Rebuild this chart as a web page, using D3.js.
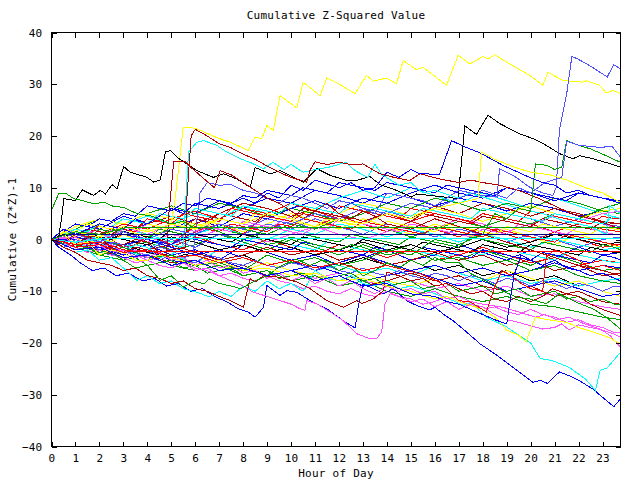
<!DOCTYPE html>
<html><head><meta charset="utf-8">
<script src="https://cdn.jsdelivr.net/npm/d3@7"></script>
<style>
body{margin:0;background:#fff}
svg{display:block}
text{font-family:"DejaVu Sans Mono",monospace;font-size:11px;fill:#000;letter-spacing:0.25px}
</style>
</head><body>
<svg id="chart" width="640" height="480"></svg>
<script>
// ---------- DATA ----------
const titleText = "Cumulative Z-Squared Value";
const xTitle = "Hour of Day";
const yTitle = "Cumulative (Z*Z)-1";
const xTicks = [0,1,2,3,4,5,6,7,8,9,10,11,12,13,14,15,16,17,18,19,20,21,22,23];
const yTicks = [-40,-30,-20,-10,0,10,20,30,40];
const hourGrid = [0,1,2,3,4,5,6,7,8,9,10,11,12,13,14,15,16,17,18,19,20,21,22,23,23.75];
const halfStep = 0.5, lastHour = 23.75;

// generic series: values at hourGrid
const g1  = [0,3,2,4.5,3,6,5,7.5,6,8,7,9.5,8.5,7,9,8,6.5,8,7,5.5,7,6,4.5,5.5,5];
const g2  = [0,1.5,-0.5,2,0.5,-1,1.5,3,1,5,4,2.5,4.5,3,1.5,3.5,2,0.5,2.5,1,-0.5,1.5,0,-1.5,-1];
const g3  = [0,-1,0.5,-1.5,-0.5,-2,-1,1,-0.5,-2,0,-1.5,-3,-1,-2.5,-1,-2.5,-4,-2,-3.5,-5,-3,-4.5,-6,-5.5];
const g4  = [0,2,1,3,4.5,3,5,4,6.5,5,7,6,8,9.5,8,10,8.5,7,9,7.5,6,8,6.5,5,4];
const g5  = [0,-0.5,1,2.5,1,3,1.5,4,3,2,4.5,6,5,7,6,4.5,6,5,3.5,5,4,2.5,4,3,2];
const g6  = [0,1,3,2,0.5,2,4,3,1.5,3,5,3.5,2,4,2.5,1,3,1.5,0,2,0.5,-1,1,-0.5,-1.5];
const g7  = [0,-2,-1,-3,-2,0,-1.5,1,0,2,3.5,2,4,3,5.5,4,6,5,3.5,5,4,2.5,4,3,2.5];
const g8  = [0,1,2.5,1.5,3,4.5,3,5,7,6,4.5,6,5,3.5,5,4,6.5,5,7,6,4.5,6,5,3.5,3];
const g9  = [0,-1.5,-0.5,-2.5,-1,-3,-2,-4,-1,-2.5,-4,-3,-5,-3.5,-2,-4,-3,-1,-2.5,-4,-2,-3.5,-1.5,-3,-2.5];
const g10 = [0,-1,-2,-1,-2.5,-3.5,-2.5,-4,-3,-5,-4,-6,-5,-3.5,-5,-4,-6,-5,-7,-6,-8,-7,-9,-8,-8.5];
const g11 = [0,0.5,-1,1,0,-1.5,0.5,-1,-2,0,-1.5,-3,-1,-2,-3.5,-2,-4,-3,-1.5,-3,-4.5,-3.5,-5,-4,-4.5];
const g12 = [0,2,4,3,5,6.5,5,7,6,4.5,6,5,3.5,5,7,6,8,7,5.5,7,6,8,7,5.5,5];
const g13 = [0,-1,-2.5,-2,-3.5,-3,-4.5,-2,-3.5,-5,-4,-6,-5,-6.5,-5.5,-7,-5,-6.5,-8,-7,-8.5,-7.5,-9,-8,-7.5];
const g14 = [0,-1.5,-3,-2,-4,-3,-5,-4,-5.5,-7,-6,-7.5,-6.5,-8,-9,-8,-9.5,-8.5,-10,-9,-11,-10.5,-12,-13,-13.5];
const g15 = [0,-1,-2,-3,-2,-4,-3,-5,-6,-4.5,-6,-7,-8,-6.5,-8,-9,-7.5,-9,-8,-6,-7.5,-9,-8,-10,-11];
const g16 = [0,1,-0.5,1.5,3,2,4,2.5,5,4,6,7.5,6,8,7,9,10.5,9,8,10,9,7.5,9,8,7];
const g17 = [0,-2,-1,-3,-2,-1,-2.5,-4,-3,-1.5,-3,-2,-4,-3,-5,-4,-2.5,-4,-3,-5,-4,-6,-5,-7,-6.5];
const g18 = [0,1,0,-1.5,0.5,-1,1,2.5,1,3,2,4,2.5,1,3,2,0.5,2,1,-0.5,1,0,-1.5,0,0.5];
const g19 = [0,-1.5,-3,-4,-3,-5,-6,-5,-7,-6,-8,-7,-9,-8,-10,-11,-9.5,-11,-12,-11,-12.5,-13,-14,-15,-15.5];
const g20 = [0,2,1,3,2,4,5.5,4,6,5,7,5.5,4,6,5,3.5,5,4,2.5,4,3,1.5,3,2,1.5];
const g21 = [0,1.5,0,2,1,-0.5,1,2.5,1,0,2,1,3,2,0.5,2,1,-0.5,1,0,-1.5,0,-1,-2,-1.5];
const g22 = [0,-0.5,-2,-1,0,-1.5,-3,-2,-3.5,-5,-4,-6,-4.5,-3,-4.5,-6,-5,-6.5,-5.5,-7,-6,-4.5,-6,-5,-5.5];
const g23 = [0,0.5,2,1,-0.5,1,0,2,1,-0.5,1,2.5,1,0,1.5,3,2,4,3,1.5,3,4.5,3.5,5,5.5];
const g24 = [0,2.5,4,3,5,4,2.5,4,3,5,4,6,5,7,6,4.5,6,5,3.5,5,6.5,5,4,5.5,6];
const g25 = [0,-0.5,1,0,-1,0.5,-0.5,-2,-1,-2.5,-1.5,-3,-2,-0.5,-2,-1,-2.5,-1.5,0,-1.5,-0.5,1,0,-1,-0.5];
const g26 = [0,-1,-2,-3.5,-3,-4.5,-4,-6,-5,-7,-6,-8,-7,-9,-8,-6.5,-8,-7,-9,-10,-9,-11,-10,-12,-12.5];
const g27 = [0,1,2.5,1.5,0.5,2,1,3,2,1,3,2,4,3,2,0.5,2,3.5,2.5,4,3,5,4,6,7];
const g28 = [0,0,-1.5,-3,-2,-4,-5,-4,-5.5,-7,-6,-5,-6.5,-8,-7,-6,-7.5,-9,-8,-10,-9,-8,-9.5,-11,-10.5];
const genericValues = [g1,g2,g3,g4,g5,g6,g7,g8,g9,g10,g11,g12,g13,g14,g15,g16,g17,g18,g19,g20,g21,g22,g23,g24,g25,g26,g27,g28];
const genericColors = ["blue","red","green","cyan","magenta","yellow","lightblue","darkred","blue","black","red","green","cyan","magenta","yellow","blue","darkred","lightblue","green","red","cyan","blue","magenta","yellow","black","darkred","green","blue"];

// half-hourly series (0, 0.5, ... 23.5, then 23.75)
const h1  = [0,1.5,3,2.5,4,3.5,5,4.5,6.5,6,5.5,7,6.5,8,7.5,7,8.5,8,9.5,9,8.5,10,9.5,9,11,10.5,10,9.5,11,10.5,10,9.5,9,10.5,10,9.5,9,8.5,10,9.5,9,8.5,8,7.5,9,8.5,8,7.5,7.5];
const h2  = [0,-0.5,1,0.5,-1,0,-1.5,-1,0.5,0,-1,1,2.5,2,1.5,3,2.5,2,1.5,3,2.5,4,3.5,3,2.5,2,3.5,3,2.5,2,1.5,1,2.5,2,1.5,1,0.5,2,1.5,1,0.5,0,-0.5,1,0.5,0,-0.5,-1,-1];
const h3  = [0,1,0.5,0,2,1.5,1,0.5,0,2,1.5,1,3,2.5,2,1.5,1,0.5,2.5,2,1.5,1,0.5,0,-0.5,1,0.5,0,-0.5,-1,0.5,0,-0.5,-1,-1.5,0.5,0,-0.5,-1,-1.5,-2,-0.5,-1,-1.5,-2,-2.5,-1,-1.5,-2];
const h4  = [0,-1,-0.5,-1.5,0,-0.5,-1,-1.5,-2,-0.5,-1,-1.5,1,0.5,0,-0.5,-1,0.5,0,-0.5,-1,-1.5,-2,-0.5,-1,-1.5,-2,-2.5,-1,-1.5,-2,-2.5,-3,-3.5,-2,-2.5,-3,-1.5,-2,-2.5,-3,-3.5,-4,-2.5,-3,-3.5,-4,-4.5,-4.5];
const h5  = [0,0.5,2,1.5,1,0.5,2,1.5,3,2.5,2,1.5,1,2.5,2,1.5,3.5,3,2.5,2,1.5,1,2.5,2,4,3.5,3,2.5,2,1.5,3,2.5,2,1.5,1,0.5,2,1.5,1,3,2.5,2,1.5,1,2.5,2,1.5,1,1];
const h6  = [0,2,1.5,3,2.5,2,4,3.5,3,2.5,2,3.5,3,2.5,4,3.5,3,5,4.5,4,3.5,3,2.5,4,3.5,3,2.5,2,3.5,3,2.5,2,1.5,3,2.5,2,1.5,1,2.5,2,1.5,3,2.5,2,1.5,1,2.5,2,2];
const h7  = [0,-1,-2,-1.5,-2.5,-3,-2,-3,-3.5,-4,-3,-4,-4.5,-3,-3.5,-4.5,-5,-4,-5,-5.5,-4.5,-5,-6,-5,-6,-6.5,-5.5,-6.5,-7,-6,-7,-7.5,-6.5,-7,-8,-7,-7.5,-8.5,-7.5,-8,-9,-8,-8.5,-9.5,-8.5,-9,-10,-9,-9];
const h8  = [0,1,0.5,2,1.5,1,2.5,2,4,3.5,3,2.5,4,3.5,5,4.5,4,3.5,5,4.5,4,6,5.5,5,4.5,4,5.5,5,4.5,4,3.5,5,4.5,4,3.5,3,4.5,4,3.5,3,2.5,4,3.5,3,2.5,2,3.5,3,3];
const h9  = [0,-0.5,0.5,0,-1,-0.5,1,0.5,0,-0.5,-1,0.5,0,-0.5,-1,-1.5,0,-0.5,-1,-1.5,-2,-0.5,-1,-1.5,-2,-2.5,-3,-1.5,-2,-2.5,-3,-1.5,-2,-2.5,-3,-3.5,-2,-2.5,-3,-3.5,-4,-2.5,-3,-3.5,-4,-4.5,-3,-3.5,-4];
const h10 = [0,1.5,1,0.5,3,2.5,2,1.5,4,3.5,3,5,4.5,4,3.5,6,5.5,5,4.5,4,3.5,5,4.5,4,6.5,6,5.5,5,4.5,4,6,5.5,5,4.5,4,3.5,5,4.5,4,3.5,5.5,5,4.5,4,3.5,3,4.5,4,4];
const h11 = [0,-1,-2,-1.5,-3,-2.5,-4,-3.5,-5,-4.5,-4,-5.5,-5,-6.5,-6,-5.5,-7,-6.5,-6,-7.5,-7,-6.5,-8,-7.5,-7,-6.5,-8,-7.5,-9,-8.5,-8,-9.5,-9,-8.5,-10,-9.5,-9,-10.5,-10,-9.5,-11,-10.5,-10,-11.5,-11,-12,-11.5,-12.5,-12.5];
const h12 = [0,0.5,1.5,1,0.5,0,1.5,1,0.5,0,2,1.5,1,0.5,0,-0.5,1,0.5,0,-0.5,-1,0.5,0,-0.5,-1,-1.5,0,-0.5,-1,-1.5,-2,-0.5,-1,-1.5,-2,-2.5,-1,-1.5,-2,-2.5,-1,-1.5,-2,-2.5,-3,-1.5,-2,-2.5,-2.5];
const h13 = [0,1,2,1.5,3,2.5,4,3.5,3,5,4.5,4,6,5.5,5,4.5,6.5,6,5.5,5,7,6.5,6,5.5,5,7,6.5,6,5.5,5,4.5,6,5.5,5,4.5,4,6,5.5,5,4.5,4,3.5,5,4.5,4,3.5,3,4.5,4];
const h14 = [0,-1,-1.5,-2.5,-2,-3,-3.5,-4.5,-4,-5,-5.5,-4.5,-5.5,-6,-7,-6.5,-7.5,-8,-7,-8,-8.5,-9.5,-9,-10,-10.5,-9.5,-10.5,-11,-10,-11,-11.5,-12.5,-12,-11,-12,-12.5,-13.5,-13,-14,-14.5,-13.5,-14.5,-15,-16,-15.5,-16.5,-17,-18,-18];
const halfValues = [h1,h2,h3,h4,h5,h6,h7,h8,h9,h10,h11,h12,h13,h14];
const halfColors = ["blue","red","green","cyan","magenta","yellow","lightblue","darkred","blue","red","green","black","cyan","magenta"];

// prominent series: [hour, value] pairs
const yellowTop = [[0,0],[0.5,1.5],[1,0.5],[1.5,-1],[2,0.5],[2.5,-0.5],[3,1],[3.5,0],[4,2],[4.5,1],[5,3],[5.17,8.2],[5.5,21.7],[6,21.5],[6.5,20.5],[7,19.5],[7.46,18.8],[8.22,17.2],[8.5,19.8],[8.78,19.5],[8.99,22],[9.26,21.1],[9.54,27.8],[10.24,25.4],[10.51,30.4],[11.21,27.8],[11.49,31.2],[11.9,30.3],[12.67,28.2],[13.15,31.7],[13.43,30.6],[13.99,31.2],[14.4,30.1],[14.68,34.6],[15.24,32.8],[15.5,33.3],[16.49,29.8],[16.97,35.6],[17.46,33.9],[18.01,35.4],[18.22,34.9],[18.5,35.7],[18.99,34.3],[19.96,31.7],[20.51,29.8],[20.72,32.3],[21.35,30.7],[22.18,30.4],[22.32,30.7],[22.88,29.8],[23.15,28.3],[23.43,28.8],[23.75,28.2]];
const blackTop = [[0,0],[0.25,-1],[0.45,5],[0.51,7.9],[1,7.5],[1.28,9.6],[1.76,8.5],[2.04,9.5],[2.25,8.8],[2.53,10.6],[2.74,9.8],[3.01,14.1],[3.29,13],[3.71,12.4],[3.99,12],[4.26,11.1],[4.54,11.5],[4.75,16.9],[4.96,17.2],[5.24,15.9],[5.65,14.6],[6.07,13.3],[6.76,12],[7.18,12.7],[7.74,11.7],[8.29,10.1],[8.5,13.9],[9.13,12.7],[9.54,13.3],[10.51,11.1],[11.07,13.7],[11.63,12.4],[12.32,11.4],[12.74,11.4],[13.29,12.2],[13.71,10.6],[14.4,9.5],[15.03,8.2],[15.24,8.8],[16,8.4],[16.97,7.9],[17.25,22],[17.74,20.3],[18.22,24],[18.71,22.4],[19.54,20.4],[20.1,19.5],[20.65,18.2],[21.2,16.6],[21.76,15.6],[22.04,16.2],[22.6,15.6],[23.2,14.8],[23.75,14]];
const lightBlueJump = [[0,0],[0.5,-1.5],[1,0],[1.5,-1],[2,-2],[2.5,-0.5],[3,-1],[3.5,-2.5],[4,-3],[4.5,-1.5],[5,-2],[5.5,-3.5],[5.9,-3],[6.2,9],[6.5,11],[7,10.5],[7.5,10.6],[8,9.5],[8.5,9],[9,8],[9.5,7],[10,8.5],[10.5,8],[11,7],[11.5,6],[12,7.5],[12.5,7],[13,6],[13.5,5],[14,9],[14.5,8.5],[15,8],[15.5,7.5],[16,6.5],[16.5,8],[17,9.5],[17.5,9],[18,8.5],[18.6,8.2],[18.7,13.7],[19.4,12],[19.96,10.1],[20.5,9],[20.93,8.5],[21.07,10.1],[21.2,21.2],[21.5,28],[21.72,35.4],[22,34.8],[22.5,33.5],[22.9,32.3],[23.2,31.4],[23.46,33.8],[23.75,33]];
const cyanTop = [[0,0],[0.5,1],[1,-1.5],[1.5,0],[2,-0.5],[2.5,-2],[3,-2.5],[3.5,-1],[4,-1.5],[4.5,-3.5],[5,-3],[5.5,-1],[5.72,16.9],[6.07,18.8],[6.35,19.1],[6.9,18.2],[7.32,16.9],[7.88,15.6],[8.29,14.9],[8.85,13.7],[9.25,14.9],[9.7,13.5],[10,14.5],[10.5,13],[11,13.5],[11.6,14],[12.3,14.9],[12.67,13.3],[13.2,12],[13.5,14.5],[13.8,12.5],[14.5,10.5],[15,11],[15.5,9],[16,9.5],[17,8],[17.5,9],[18.5,7.5],[19.5,6],[20.5,5],[21.5,3.5],[22.5,2.5],[23.15,1],[23.3,6.5],[23.75,5]];
const darkRedPeak = [[0,0],[0.5,-0.5],[1,-1],[1.5,0.5],[2,0.5],[2.5,-1.5],[3,-1],[3.5,0],[4,-0.5],[4.5,-2.5],[5,-2],[5.6,-1.5],[5.65,8],[5.83,20],[6.0,21.3],[6.5,20],[7,18.5],[7.46,17.8],[8,16.5],[8.5,15.5],[9,14.2],[9.5,13],[10,12],[10.65,11.1],[10.8,13.5],[11,15],[11.5,14.5],[12,14.9],[12.5,14.5],[13,14.6],[13.7,12.7],[14.3,12],[14.96,11.4],[15.38,12.7],[16.2,11.7],[17,11],[17.5,11.5],[18,11],[18.7,10.5],[19.5,9.5],[20.3,8],[21,6.5],[21.7,5],[22.5,4],[23.2,3],[23.75,2]];
const darkRedMid = [[0,0],[0.5,1],[1,-1.5],[1.5,-0.5],[2,-1],[2.5,-2],[3,-2.5],[3.5,-1.5],[4,-2],[4.8,-3],[4.9,5],[5.1,15],[5.58,15],[5.8,14],[6.3,12],[6.8,10],[7.04,13.3],[7.5,12.5],[8,11],[8.5,9.5],[9,8],[9.5,7],[10,5.5],[10.5,4],[11,5.5],[11.5,7],[12,5],[12.5,4],[13,5.5],[13.5,4.5],[14,3],[15,2],[16,4],[17,2.5],[18,1],[19,-0.5],[20,-2],[21,-3.5],[22,-5],[23,-6],[23.75,-7]];
const greenHigh = [[0,5.6],[0.3,8.9],[0.6,8.9],[0.93,7.9],[1.3,7.5],[1.76,6.9],[2.2,7.2],[2.5,6.5],[3,6.2],[3.57,5],[4.2,4.5],[5,3],[5.5,3.5],[6,2],[6.5,2.5],[7,1.5],[7.5,0.5],[8,0],[8.5,1],[9,-1],[9.5,-0.5],[10,0.5],[11,-1],[12,-2],[12.5,-1],[13,-1.5],[14,-3],[15,-2],[16,-4],[17,-3.5],[18,-5],[19,-4],[20,-6],[21,-5],[22,-7],[23,-8],[23.75,-8.5]];
const greenLate = [[0,0],[1,-1],[2,-2.5],[3,-1.5],[4,-3.5],[5,-3],[6,-5],[7,-4.5],[8,-6],[9,-3],[10,-4.5],[11,-3.5],[12,-5],[13,-4],[14,-2],[15,-3],[16,0],[17,-1],[18,1],[18.5,5],[19,4],[19.5,6],[20,5.5],[20.2,14.6],[20.7,14.3],[21,13.5],[21.3,14],[21.5,19.1],[22,18.2],[22.5,17.5],[23,16.5],[23.75,14.9]];
const lightBlueLate = [[0,0],[1,1],[2,-0.5],[3,1.5],[4,0],[5,2],[6,1],[7,3],[8,2],[9,4],[10,3],[11,5],[12,4],[13,6],[14,5],[15,7],[16,6],[17,8],[18,9.5],[19,8],[19.5,10],[20,9],[20.6,11],[21.3,12],[21.5,19],[22,18.2],[22.9,17.8],[23.4,18],[23.75,15.9]];
const blueHigh = [[0,0],[0.5,2],[1,1],[2,3],[3,2],[3.5,4],[4,3],[5,6],[5.5,5],[6,7],[7,6],[8,8],[8.5,7],[9,9],[9.5,8],[10,10.5],[10.5,9.5],[11,11.5],[12,10],[12.5,11],[13,9.5],[13.5,10],[14,13],[14.5,12],[15,13.5],[15.38,12.7],[16.2,12.6],[16.7,19.1],[17.2,18],[17.9,16.7],[18.85,14.3],[19.96,12],[20.5,11],[21,10.5],[21.5,9],[22,9.5],[22.5,8.5],[23,8],[23.75,7.5]];
const yellowMid = [[0,0],[1,1.5],[2,0.5],[3,2.5],[4,1.5],[5,3],[6,2],[7,4],[8,3],[9,5],[10,4],[11,2.5],[12,4],[13,3],[14,5],[15,4],[16,6],[17,7],[17.8,7.9],[17.95,16.9],[18.5,15.5],[19.3,14],[20,13],[20.8,12.5],[21.5,11.5],[22.3,10],[23,9],[23.75,7.2]];
const bottomBlue = [[0,0],[0.3,-1.5],[0.8,-3],[1.2,-4.5],[1.7,-6],[2.2,-5.5],[2.7,-7],[3.2,-6.5],[3.8,-8],[4.3,-7.5],[4.8,-9],[5.3,-8.5],[5.8,-10],[6.3,-9.5],[6.8,-11],[7.3,-12],[7.8,-13.4],[8.2,-14],[8.5,-15],[8.85,-13.1],[8.99,-8.9],[9.54,-10.8],[9.82,-9.9],[10.24,-10.2],[10.79,-11.8],[11.49,-13.4],[12.18,-15.7],[12.67,-17.1],[12.8,-13.1],[13.0,-8.6],[13.3,-9.2],[13.85,-10.5],[14.26,-9.5],[14.82,-11.8],[15.24,-12.75],[15.79,-13.6],[16.0,-13.1],[16.35,-14.4],[16.76,-15.7],[17.18,-17.3],[17.9,-20.2],[18.6,-22.4],[19.26,-24.7],[20.1,-27.6],[20.4,-27.2],[20.7,-27.8],[21.2,-25.6],[21.6,-26.3],[22.0,-27.2],[22.6,-28.9],[23.0,-30.5],[23.47,-32.3],[23.75,-30.8]];
const cyanLow = [[0,0],[0.5,-1.5],[1,-2.5],[1.5,-2],[2,-4],[2.5,-3.5],[3,-5.5],[3.57,-7.9],[4,-7],[4.5,-8.5],[5,-8],[5.5,-9.5],[6.07,-10.2],[6.6,-11.1],[7,-10],[7.5,-11],[8,-9],[8.5,-10],[9,-8],[9.5,-9.5],[10,-8.5],[10.5,-10],[11,-6],[11.5,-7.5],[12,-8],[12.5,-7],[13,-8.5],[13.5,-9],[14,-8],[14.5,-9.5],[15,-9],[15.65,-9.9],[16.6,-11.5],[17.2,-12.75],[17.5,-12.1],[18.15,-15],[19,-16.9],[19.54,-18.6],[20,-20],[20.4,-23],[20.9,-23.4],[21.6,-24.7],[22.3,-27],[22.7,-29.2],[22.9,-25.3],[23.2,-24.8],[23.75,-21.8]];
const magentaDip = [[0,0],[0.5,-1],[1,0.5],[1.5,-1.5],[2,-1],[2.5,-2.5],[3,-2],[3.5,-3.5],[4,-3],[4.5,-4],[5,-5],[5.5,-4.5],[6,-6],[6.5,-5.5],[7,-7],[7.46,-7.9],[8,-9],[8.43,-10.2],[9,-11],[9.54,-11.8],[10,-12.5],[10.38,-13.4],[10.58,-13.7],[10.65,-11.8],[11.07,-12.4],[11.63,-14],[12.18,-15.7],[12.74,-18.2],[13.29,-19.2],[13.57,-19.2],[13.78,-17.9],[13.92,-12.4],[14.13,-10.5],[14.5,-11],[15,-12],[15.5,-11.5],[16,-13],[16.5,-12],[17,-13.5],[17.5,-12.5],[18,-13],[18.5,-14.5],[19,-15.5],[19.5,-16],[20,-16.7],[20.5,-17.3],[21,-17],[21.3,-16.3],[21.6,-17.5],[22,-16.5],[22.5,-17],[23,-17.5],[23.5,-18.3],[23.75,-18.9]];
const magentaLow = [[0,0],[0.5,0.5],[1,-1],[1.5,0],[2,-1.5],[2.5,-1],[3,-2.5],[3.5,-2],[4,-3.5],[4.5,-2.5],[5,-4],[5.5,-3.5],[6,-5],[6.5,-4],[7,-5.5],[7.5,-5],[8,-6.5],[8.5,-6],[9,-7.5],[9.5,-6.5],[10,-8],[10.5,-7],[11,-8.5],[11.5,-7.5],[12,-9],[12.5,-8],[13,-9.5],[13.5,-10.5],[14,-9],[14.5,-10],[15,-9.5],[15.5,-10.5],[16,-10],[16.5,-11.5],[17,-11],[17.5,-12],[18,-12.5],[18.85,-13.1],[19.5,-14],[20.2,-15],[20.6,-14.5],[21.1,-15.5],[21.6,-15],[22.2,-16.2],[22.9,-17.3],[23.3,-18.5],[23.75,-20.8]];
const darkRedLow = [[0,0],[0.5,-1.5],[1,-2.5],[1.5,-4],[2,-4.5],[2.5,-5],[3,-6],[3.5,-5.5],[4,-7],[4.5,-7.5],[5,-8.5],[5.5,-8],[6,-9.5],[6.5,-10],[7,-11],[7.46,-11.8],[8.01,-13.1],[8.29,-7.6],[8.5,-8.2],[8.85,-7],[9.54,-7.3],[10.24,-8.2],[10.79,-9.5],[11.49,-11.8],[12.18,-13.1],[12.74,-11.8],[12.95,-12.4],[13.43,-11.5],[13.85,-9.9],[13.99,-6.3],[14.5,-7],[15,-8],[15.5,-7.5],[16,-9],[16.5,-8.5],[17,-9.5],[17.5,-10.5],[18,-10],[18.5,-11.5],[19,-12],[19.5,-11],[20,-12],[20.5,-11],[20.9,-9.5],[21.5,-10.5],[22,-11],[22.5,-12.5],[23,-13.5],[23.75,-14.7]];
const greenLow = [[0,0],[0.5,-1],[1,-2],[1.5,-1.5],[2,-3],[2.5,-2.5],[3,-4],[3.5,-5.5],[4,-5],[4.54,-7.9],[5,-7],[5.5,-9.2],[6,-8],[6.35,-8.6],[6.6,-7.6],[7,-8.5],[7.5,-9],[7.9,-9.5],[8.5,-8],[9,-7],[9.5,-5.3],[10.2,-3.8],[10.8,-5],[11.3,-4],[12,-6],[12.5,-5],[13,-7],[13.5,-6],[14,-4.5],[14.5,-5.5],[15,-4],[15.5,-5],[16,-3.5],[16.5,-4.5],[17,-4.4],[17.5,-6.6],[18.4,-8.6],[18.8,-9.9],[19.4,-11.1],[19.96,-11.5],[20.65,-12.4],[21.2,-10.5],[21.9,-12.1],[22.6,-13.4],[23.15,-15],[23.75,-17.3]];
const yellowLow = [[0,0],[0.5,1],[1,-1],[1.5,-0.5],[2,-3],[2.5,-2],[3,-2.5],[3.5,-4],[4,-4],[4.5,-3],[5,-3.5],[6,-5],[7,-4],[8,-6],[9,-5.5],[10,-7],[11,-6.5],[12,-8],[13,-7.5],[14,-9],[15,-10],[16,-11.5],[16.5,-11],[17,-12],[18,-13.5],[18.5,-15],[19,-17.5],[19.5,-18.5],[19.8,-19.8],[20.2,-15],[20.7,-15.5],[21.5,-16],[22,-17],[22.7,-18],[23.3,-19],[23.75,-20.2]];
const redLow = [[0,0],[0.5,-0.5],[1,-1.5],[2,-1],[3,-2.5],[4,-2],[5,-3.5],[6,-3],[7,-4.5],[8,-3.5],[9,-5],[10,-4],[11,-5.5],[12,-4.5],[13,-6],[14,-5],[15.38,-6.6],[16.2,-8.2],[17,-11.8],[17.5,-12.1],[18.15,-14],[18.3,-12],[18.5,-9.2],[18.8,-6],[19.2,-7],[19.6,-8.5],[20,-9.5],[20.5,-10],[20.65,-3.4],[21,-2],[21.5,-3],[22,-4],[22.5,-5.5],[23,-5],[23.75,-6]];
const blueMidLow = [[0,0],[1,-2],[2,-1.5],[3,-3.5],[4,-3],[5,-5],[6,-4],[7,-6],[8,-5.5],[9,-7],[10,-6],[11,-8],[12,-7],[13,-9],[14,-8.5],[15,-10.5],[16,-11],[16.5,-12],[17,-12.5],[17.5,-13.5],[18,-14.5],[18.5,-15.5],[19.0,-16.3],[19.3,-7],[19.6,-3],[20,-4],[20.5,-5],[21,-4],[21.5,-5.5],[22,-6],[22.5,-7],[23,-6.5],[23.75,-8]];
const redFlat = [[0,0],[1,-1],[2,-0.5],[3,-2],[3.7,-2.4],[23.75,-2.4]];
const greenFlat = [[0,0],[1,1.5],[2,1],[3.08,2.26],[23.75,2.26]];
const navyFlat = [[0,0],[0.5,1],[23.75,1]];
const cyanFlat = [[0,0],[1,-0.5],[2,0.13],[23.75,0.13]];

const prominentSeries = [yellowTop,blackTop,lightBlueJump,cyanTop,darkRedPeak,darkRedMid,greenHigh,greenLate,lightBlueLate,blueHigh,yellowMid,bottomBlue,cyanLow,magentaDip,magentaLow,darkRedLow,greenLow,yellowLow,redLow,blueMidLow,cyanFlat,navyFlat,greenFlat,redFlat];
const prominentColors = ["yellow","black","lightblue","cyan","darkred","darkred","green","green","lightblue","blue","yellow","blue","cyan","magenta","magenta","darkred","green","yellow","red","blue","cyan","navy","green","red"];

// ---------- STYLE ----------
const palette = {black:"#000000",red:"#ff0000",darkred:"#b00000",green:"#00a000",blue:"#0000ff",lightblue:"#5050ff",navy:"#000080",magenta:"#ff50ff",cyan:"#00ffff",yellow:"#ffff00"};

// ---------- DRAW ----------
const svg = d3.select("#chart");
const pL = 51.5, pR = 620.5, pT = 32.5, pB = 446.5;
const x = d3.scaleLinear().domain([0,23.75]).range([pL,pR]);
const y = d3.scaleLinear().domain([-40,40]).range([pB,pT]);

svg.append("defs").append("clipPath").attr("id","clip")
  .append("rect").attr("x",pL).attr("y",pT).attr("width",pR-pL).attr("height",pB-pT);

const allSeries = genericValues.map((vals,i)=>({pts: vals.map((v,j)=>[hourGrid[j],v]), color: palette[genericColors[i]]}))
  .concat(halfValues.map((vals,i)=>({pts: vals.map((v,j)=>[Math.min(j*halfStep,lastHour),v]), color: palette[halfColors[i]]})))
  .concat(prominentSeries.map((pts,i)=>({pts, color: palette[prominentColors[i]]})));

const line = d3.line().defined(d=>d[0]!==undefined && d[1]!==undefined).x(d=>x(d[0])).y(d=>y(d[1]));
svg.append("g").attr("clip-path","url(#clip)")
  .selectAll("path").data(allSeries).join("path")
  .attr("d", d=>line(d.pts))
  .attr("fill","none")
  .attr("stroke", d=>d.color)
  .attr("stroke-width",1)
  .attr("shape-rendering","crispEdges");

// frame
svg.append("rect").attr("x",pL).attr("y",pT).attr("width",pR-pL).attr("height",pB-pT)
  .attr("fill","none").attr("stroke","#000").attr("shape-rendering","crispEdges");

// axes with inward ticks
const tickLen = 5;
svg.append("g").attr("transform",`translate(0,${pB})`)
  .call(d3.axisBottom(x).tickValues(xTicks).tickSizeInner(-tickLen).tickSizeOuter(0).tickPadding(8).tickFormat(d3.format("d")))
  .call(g=>{g.select(".domain").remove(); g.selectAll("text").attr("font-family",null).attr("font-size",null).attr("fill","#000");});
svg.append("g").attr("transform",`translate(0,${pT})`)
  .call(d3.axisTop(x).tickValues(xTicks).tickSizeInner(-tickLen).tickSizeOuter(0).tickFormat(""))
  .call(g=>g.select(".domain").remove());
svg.append("g").attr("transform",`translate(${pL},0)`)
  .call(d3.axisLeft(y).tickValues(yTicks).tickSizeInner(-tickLen).tickSizeOuter(0).tickPadding(9).tickFormat(d3.format("d")))
  .call(g=>{g.select(".domain").remove(); g.selectAll("text").attr("font-family",null).attr("font-size",null).attr("fill","#000");});
svg.append("g").attr("transform",`translate(${pR},0)`)
  .call(d3.axisRight(y).tickValues(yTicks).tickSizeInner(-tickLen).tickSizeOuter(0).tickFormat(""))
  .call(g=>g.select(".domain").remove());
svg.selectAll(".tick line").attr("stroke","#000").attr("shape-rendering","crispEdges");

// titles
svg.append("text").attr("x",(pL+pR)/2).attr("y",19).attr("text-anchor","middle").text(titleText);
svg.append("text").attr("x",(pL+pR)/2).attr("y",477).attr("text-anchor","middle").text(xTitle);
svg.append("text").attr("transform",`translate(16,${(pT+pB)/2}) rotate(-90)`).attr("text-anchor","middle").text(yTitle);
</script>
</body></html>
